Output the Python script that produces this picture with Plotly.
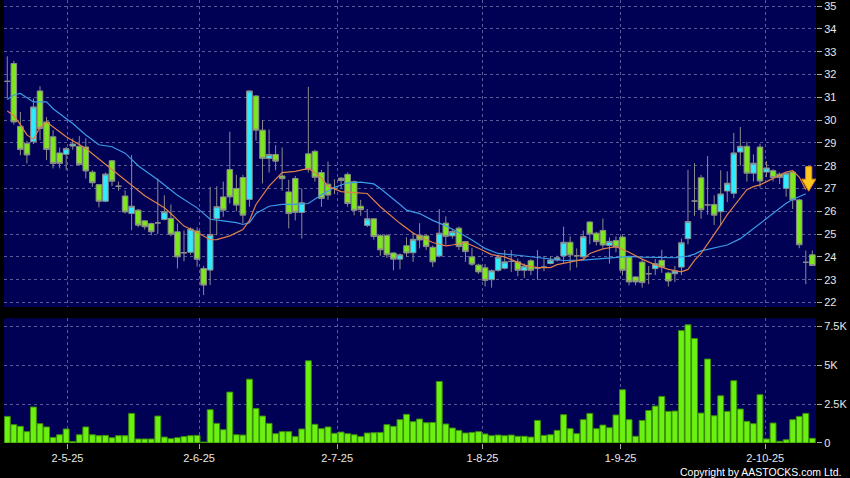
import plotly.graph_objects as go

# ---------------- data ----------------
OPEN = [31.7, 32.48, 29.73, 28.98, 29.05, 31.28, 29.92, 29.27, 28.56, 28.5,
        28.86, 28.85, 28.82, 27.72, 27.17, 26.44, 28.22, 27.1, 26.67, 25.9,
        26.05, 25.58, 25.46, 25.49, 25.64, 25.69, 25.1, 24.18, 24.2, 25.14,
        23.49, 23.42, 25.68, 26.63, 27.83, 27.0, 27.48, 26.52, 31.06, 29.56,
        28.32, 28.49, 27.55, 26.85, 27.44, 25.95, 28.52, 28.63, 27.7, 27.19,
        27.0, 27.45, 27.62, 27.3, 26.22, 25.38, 25.67, 24.93, 24.93, 24.17,
        23.9, 24.49, 24.18, 24.95, 24.92, 24.42, 24.04, 25.48, 24.92, 25.26,
        24.67, 24.0, 23.64, 23.52, 23.0, 23.41, 23.5, 23.8, 23.78, 23.41,
        23.83, 23.5, 23.55, 23.71, 23.86, 24.04, 24.64, 24.05, 24.0, 25.53,
        25.04, 25.16, 24.5, 24.72, 24.87, 23.99, 23.12, 23.77, 23.26, 23.48,
        23.85, 23.29, 23.26, 23.55, 24.8, 26.45, 27.47, 26.28, 26.3, 25.98,
        26.89, 26.79, 28.6, 28.85, 27.67, 28.82, 27.72, 27.78, 27.63, 27.0,
        27.72, 26.5, 23.76, 24.09]
HIGH = [32.8, 32.6, 30.36, 29.1, 30.95, 31.49, 30.14, 29.56, 28.8, 28.82,
        29.2, 29.3, 29.2, 27.8, 27.2, 27.7, 28.25, 27.3, 26.92, 28.47,
        26.1, 25.6, 25.5, 27.44, 26.7, 26.3, 25.47, 25.16, 25.3, 25.3,
        23.6, 27.07, 27.1, 27.3, 29.49, 27.6, 27.6, 31.3, 31.1, 30.0,
        29.59, 28.9, 28.8, 27.38, 27.55, 27.0, 31.46, 28.7, 27.82, 28.18,
        27.4, 27.5, 27.7, 27.35, 26.5, 26.1, 25.7, 25.0, 25.0, 24.2,
        24.15, 24.86, 25.07, 25.48, 25.0, 24.5, 26.1, 25.78, 25.2, 25.33,
        24.7, 24.4, 23.7, 23.68, 23.45, 24.1, 24.3, 24.3, 23.93, 23.71,
        23.9, 24.3, 24.04, 24.0, 24.05, 25.33, 24.9, 24.37, 25.15, 25.56,
        25.1, 25.68, 24.85, 24.9, 24.95, 24.0, 23.15, 23.9, 23.6, 23.9,
        24.31, 23.35, 23.6, 24.8, 27.82, 28.11, 27.6, 28.42, 26.7, 27.8,
        27.75, 29.44, 29.7, 29.05, 28.5, 28.96, 28.2, 27.85, 27.7, 27.7,
        27.75, 26.55, 24.28, 24.28]
LOW = [30.95, 29.8, 28.46, 28.1, 28.95, 29.12, 28.25, 27.88, 27.88, 27.8,
       28.7, 28.0, 27.44, 27.07, 26.17, 26.4, 27.1, 26.9, 25.9, 25.17,
       25.3, 25.2, 24.95, 25.0, 25.6, 24.9, 23.49, 23.8, 24.1, 23.57,
       22.32, 22.76, 24.95, 25.76, 26.34, 26.0, 25.46, 26.2, 29.1, 27.22,
       27.7, 27.8, 26.9, 25.25, 25.6, 24.8, 27.7, 27.3, 26.19, 26.5,
       26.75, 27.0, 26.2, 25.82, 25.8, 25.3, 24.75, 24.05, 23.95, 23.41,
       23.45, 24.0, 23.78, 24.37, 24.3, 23.56, 23.98, 24.53, 24.8, 24.3,
       23.78, 23.6, 23.25, 22.7, 22.65, 23.35, 23.45, 23.34, 23.15, 23.08,
       23.2, 23.0, 23.37, 23.67, 23.8, 23.7, 23.4, 23.53, 23.9, 24.55,
       24.5, 24.4, 23.7, 24.2, 23.19, 22.75, 22.75, 22.65, 22.8, 23.2,
       23.3, 22.7, 22.9, 23.2, 24.55, 25.8, 25.67, 25.85, 25.4, 25.4,
       26.4, 26.57, 28.0, 27.3, 27.3, 27.04, 27.5, 27.3, 27.2, 26.64,
       26.1, 24.38, 22.8, 23.6]
CLOSE = [31.7, 29.92, 28.71, 28.47, 30.58, 29.63, 28.71, 28.1, 28.1, 28.75,
         28.95, 28.05, 27.77, 27.25, 26.44, 27.63, 27.32, 27.1, 25.97, 26.22,
         25.39, 25.32, 25.1, 25.49, 25.98, 24.99, 24.0, 24.18, 25.22, 23.89,
         22.76, 24.98, 26.2, 26.05, 26.63, 26.27, 25.83, 31.28, 29.56, 28.32,
         28.49, 28.2, 27.43, 25.9, 25.95, 26.37, 27.84, 27.49, 26.56, 26.71,
         27.0, 27.35, 26.34, 26.04, 26.07, 25.67, 24.89, 24.31, 24.09, 23.9,
         24.09, 24.17, 24.77, 24.74, 24.45, 23.78, 25.04, 24.9, 25.11, 24.45,
         24.23, 23.68, 23.34, 22.97, 23.39, 23.98, 23.78, 23.8, 23.41, 23.59,
         23.41, 23.5, 23.55, 23.86, 23.96, 24.64, 24.08, 24.05, 24.89, 25.0,
         24.67, 24.52, 24.68, 24.43, 23.41, 22.9, 22.9, 22.87, 23.26, 23.7,
         23.55, 22.94, 23.38, 24.62, 25.55, 26.45, 26.07, 26.28, 25.83, 26.76,
         27.23, 28.56, 28.85, 27.67, 28.11, 27.33, 27.9, 27.48, 27.48, 27.67,
         26.5, 24.53, 23.76, 23.62]
VOLUME = [1710, 1180, 1070, 730, 2310, 1240, 1030, 360, 530, 900,
          100, 530, 1030, 530, 470, 490, 340, 470, 470, 1900,
          260, 260, 260, 1730, 380, 280, 340, 410, 470, 490,
          60, 2140, 1260, 850, 3270, 530, 510, 4100, 2220, 1730,
          1260, 600, 730, 730, 410, 900, 5280, 1200, 920, 1030,
          620, 700, 600, 530, 410, 640, 660, 680, 1180, 1070,
          1500, 1840, 1370, 1540, 1300, 1320, 3950, 1220, 960, 810,
          640, 680, 730, 580, 470, 510, 470, 510, 430, 430,
          380, 1450, 490, 530, 810, 1820, 920, 600, 1500, 1900,
          920, 1150, 980, 1800, 3420, 1500, 430, 1450, 2090, 2370,
          2990, 2030, 2050, 7220, 7590, 6710, 1920, 5390, 1750, 3030,
          2030, 4000, 2180, 1390, 1240, 3100, 260, 1280, 110, 210,
          1500, 1710, 1900, 300]

# moving-average lines at these candle positions
MA_SHORT_IDX = [0, 1, 2, 3, 4, 5, 6, 9, 12, 15, 18, 21, 24, 25, 27, 29, 31, 32, 34, 36,
                37, 38, 40, 42, 44, 46, 47, 48, 49, 51, 53, 55, 57, 58, 60, 62, 63, 65, 67, 68,
                70, 72, 74, 76, 77, 79, 81, 83, 84, 86, 88, 89, 91, 93, 95, 97, 99, 101, 103, 104,
                105, 106, 107, 108, 109, 110, 111, 112, 113, 114, 115, 116, 117, 118, 119, 120,
                121, 122]
MA_SHORT = [30.4, 30.2, 29.8, 29.35, 29.15, 29.7, 29.92, 29.27, 28.75, 28.05, 27.37, 26.68,
            26.15, 25.9, 25.35, 25.08, 24.75, 24.76, 24.92, 25.2, 25.6, 26.3, 27.1, 27.7,
            27.75, 27.88, 27.7, 27.45, 27.1, 26.86, 26.82, 26.78, 26.2, 25.95, 25.47, 25.05,
            24.89, 24.63, 24.48, 24.52, 24.63, 24.38, 24.1, 24.0, 23.88, 23.64, 23.53, 23.53,
            23.66, 23.78, 23.89, 24.15, 24.35, 24.45, 24.2, 23.9, 23.65, 23.45, 23.34, 23.45,
            23.85, 24.15, 24.55, 24.98, 25.4, 25.85, 26.2, 26.6, 26.95, 27.08, 27.16, 27.3,
            27.45, 27.6, 27.72, 27.78, 27.5, 26.95]
MA_LONG_IDX = [0, 1, 2, 4, 6, 7, 10, 12, 14, 16, 18, 20, 23, 26, 29, 31, 33, 35, 36, 37,
               38, 40, 42, 44, 46, 48, 50, 52, 54, 56, 57, 58, 60, 61, 63, 65, 67, 69, 71, 73,
               75, 78, 80, 83, 85, 88, 91, 93, 95, 97, 100, 102, 104, 105, 106, 108, 110, 112,
               114, 116, 118, 119, 120, 121, 122]
MA_LONG = [30.9, 31.1, 31.17, 30.8, 30.8, 30.5, 29.85, 29.35, 28.92, 28.83, 28.55, 28.0,
           27.38, 26.7, 26.15, 25.65, 25.58, 25.5, 25.42, 25.5, 25.9, 26.22, 26.3, 26.3,
           26.34, 26.72, 27.05, 27.25, 27.28, 27.2, 27.0, 26.78, 26.3, 26.05, 25.9, 25.6,
           25.36, 25.07, 24.74, 24.37, 24.15, 24.07, 24.0, 23.89, 23.84, 23.86, 23.92, 23.99,
           24.02, 23.99, 23.96, 23.96, 24.03, 24.12, 24.26, 24.38, 24.52, 24.8, 25.24, 25.68,
           26.12, 26.35, 26.52, 26.65, 26.77]

TICK_POS = [9.2, 29.3, 50.4, 72.6, 93.7, 115.8]
TICK_LABELS = ["2-5-25", "2-6-25", "2-7-25", "1-8-25", "1-9-25", "2-10-25"]
PRICE_TICKS = list(range(22, 36))
VOL_TICKS = [0, 2500, 5000, 7500]
VOL_TICK_LABELS = ["0", "2.5K", "5K", "7.5K"]
ARROW_TIP = (122.45, 26.88)   # signal arrow position (candle index, price)

IDX = list(range(len(OPEN)))

# ---------------- style ----------------
BG = "#000054"
GRID = "#5A5A98"
WICK = "#8C8C8C"
UP = "#2EEBFF"
DOWN = "#7DE61C"
VOL_FILL = "#6CF012"
VOL_EDGE = "#3B8F08"
TXT = "#E8E8E8"
FONT = "Liberation Sans, Arial, sans-serif"

fig = go.Figure()
fig.add_trace(go.Candlestick(
    x=IDX, open=OPEN, high=HIGH, low=LOW, close=CLOSE,
    increasing=dict(line=dict(color=WICK, width=1), fillcolor=UP),
    decreasing=dict(line=dict(color=WICK, width=1), fillcolor=DOWN),
    whiskerwidth=0, xaxis="x", yaxis="y", hoverinfo="skip", showlegend=False))
fig.add_trace(go.Scatter(x=MA_LONG_IDX, y=MA_LONG, mode="lines",
                         line=dict(color="#3C9BE6", width=1.2),
                         xaxis="x", yaxis="y", hoverinfo="skip", showlegend=False))
fig.add_trace(go.Scatter(x=MA_SHORT_IDX, y=MA_SHORT, mode="lines",
                         line=dict(color="#E0804A", width=1.2),
                         xaxis="x", yaxis="y", hoverinfo="skip", showlegend=False))
fig.add_trace(go.Bar(x=IDX, y=VOLUME, xaxis="x2", yaxis="y2",
                     marker=dict(color=VOL_FILL, line=dict(color=VOL_EDGE, width=1)),
                     hoverinfo="skip", showlegend=False))

# signal arrow built around its tip
ax, ay = ARROW_TIP
sw, hw, hh, tl = 0.47, 1.08, 0.53, 1.08
arrow_path = (f"M {ax - sw},{ay + tl} L {ax + sw},{ay + tl} L {ax + sw},{ay + hh} "
              f"L {ax + hw},{ay + hh} L {ax},{ay} L {ax - hw},{ay + hh} "
              f"L {ax - sw},{ay + hh} Z")

XR = [-0.5, 123.56]
common_x = dict(range=XR, tickvals=TICK_POS, showgrid=True, gridcolor=GRID,
                griddash="3px,3px", gridwidth=1, zeroline=False, showline=False,
                fixedrange=True)

fig.update_layout(
    width=850, height=478, autosize=False,
    margin=dict(l=4, r=34, t=0, b=35, pad=0),
    paper_bgcolor="black", plot_bgcolor=BG,
    font=dict(family=FONT, size=11, color=TXT),
    boxgap=0.15, boxgroupgap=0, bargap=0.1,
    xaxis=dict(**common_x, anchor="y", showticklabels=False, ticks="",
               rangeslider=dict(visible=False)),
    xaxis2=dict(**common_x, anchor="y2", matches="x", ticktext=TICK_LABELS,
                ticks="outside", ticklen=5, tickcolor="#AAAAAA",
                tickfont=dict(family=FONT, size=11, color=TXT)),
    yaxis=dict(domain=[0.307, 1.0], range=[21.8, 35.27], side="right",
               tickvals=PRICE_TICKS, ticks="outside", ticklen=5, tickcolor="#AAAAAA",
               showgrid=True, gridcolor=GRID, griddash="3px,3px", zeroline=False,
               tickfont=dict(family=FONT, size=11, color=TXT), fixedrange=True),
    yaxis2=dict(domain=[0.0, 0.2815], range=[0, 8010], side="right",
                tickvals=VOL_TICKS, ticktext=VOL_TICK_LABELS, ticks="outside",
                ticklen=5, tickcolor="#AAAAAA", showgrid=True, gridcolor=GRID,
                griddash="3px,3px", zeroline=False,
                tickfont=dict(family=FONT, size=11, color=TXT), fixedrange=True),
    shapes=[dict(type="path", xref="x", yref="y", path=arrow_path,
                 fillcolor="#FFC81E", line=dict(color="#E08A00", width=1), layer="above")],
    annotations=[dict(text="Copyright by AASTOCKS.com Ltd.", xref="paper", yref="paper",
                      x=1.0336, y=-0.066, xanchor="right", yanchor="middle",
                      showarrow=False, font=dict(family=FONT, size=10.5, color="#FFFFFF"))],
)

fig.write_html("out.html", config={"displayModeBar": False},
               post_script="document.body.style.margin='0px';"
                           "document.body.style.background='black';")
